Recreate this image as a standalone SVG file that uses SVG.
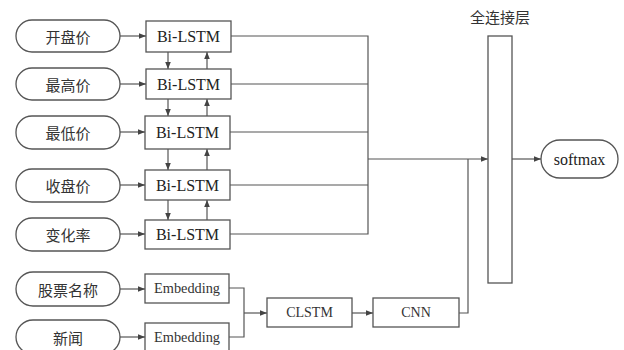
<svg xmlns="http://www.w3.org/2000/svg" width="624" height="350" viewBox="0 0 624 350">
<defs>
<marker id="ah" viewBox="0 0 10 10" refX="10" refY="5" markerWidth="7" markerHeight="7" markerUnits="userSpaceOnUse" orient="auto">
<path d="M0,1 L10,5 L0,9 z" fill="#444"/>
</marker>
<style>
.pill{fill:#fff;stroke:#555;stroke-width:1.3}
.box{fill:#fff;stroke:#555;stroke-width:1.3}
.ln{fill:none;stroke:#555;stroke-width:1.2}
.arr{fill:none;stroke:#555;stroke-width:1.2;marker-end:url(#ah)}
.cn{font-family:"Noto Sans CJK SC",sans-serif;font-size:15px;fill:#333;text-anchor:middle;dominant-baseline:central}
.en{font-family:"Liberation Serif",serif;font-size:16px;fill:#222;text-anchor:middle;dominant-baseline:central}
.sm{font-family:"Liberation Serif",serif;font-size:14px;fill:#333;text-anchor:middle;dominant-baseline:central}
.md{font-family:"Liberation Serif",serif;font-size:14px;fill:#333;text-anchor:middle;dominant-baseline:central}
</style>
</defs>
<rect width="624" height="350" fill="#fff"/>
<g id="connectors">
<line class="arr" x1="120" y1="36" x2="146" y2="36"/>
<line class="arr" x1="120" y1="84" x2="146" y2="84"/>
<line class="arr" x1="120" y1="132" x2="145" y2="132"/>
<line class="arr" x1="120" y1="185" x2="145" y2="185"/>
<line class="arr" x1="120" y1="234" x2="145" y2="234"/>
<line class="arr" x1="120" y1="289" x2="145" y2="289"/>
<line class="arr" x1="120" y1="337" x2="145" y2="337"/>
<line class="arr" x1="168" y1="52" x2="168" y2="69"/>
<line class="arr" x1="207" y1="69" x2="207" y2="52"/>
<line class="arr" x1="168" y1="99" x2="168" y2="116"/>
<line class="arr" x1="207" y1="116" x2="207" y2="99"/>
<line class="arr" x1="168" y1="149" x2="168" y2="170"/>
<line class="arr" x1="207" y1="170" x2="207" y2="149"/>
<line class="arr" x1="168" y1="200" x2="168" y2="220"/>
<line class="arr" x1="207" y1="220" x2="207" y2="200"/>
<path class="ln" d="M231,36 H368 V234 H230 M231,84 H368 M230,132 H368 M230,185 H368"/>
<line class="arr" x1="368" y1="159" x2="488" y2="159"/>
<path class="ln" d="M459,313 H468 V159"/>
<line class="arr" x1="512" y1="159" x2="541" y2="159"/>
<path class="ln" d="M229,288 H244 V337 H229"/>
<line class="arr" x1="244" y1="313" x2="267" y2="313"/>
<line class="arr" x1="352" y1="313" x2="373" y2="313"/>
</g>
<g id="n-open"><rect class="pill" x="16" y="20" width="104" height="32" rx="16"/><text class="cn" x="68" y="36">开盘价</text></g>
<g id="n-high"><rect class="pill" x="16" y="68" width="104" height="32" rx="16"/><text class="cn" x="68" y="84">最高价</text></g>
<g id="n-low"><rect class="pill" x="16" y="116" width="104" height="33" rx="16"/><text class="cn" x="68" y="132">最低价</text></g>
<g id="n-close"><rect class="pill" x="16" y="169" width="104" height="33" rx="16"/><text class="cn" x="68" y="185">收盘价</text></g>
<g id="n-change"><rect class="pill" x="16" y="218" width="104" height="33" rx="16"/><text class="cn" x="68" y="234">变化率</text></g>
<g id="n-name"><rect class="pill" x="16" y="272" width="104" height="34" rx="17"/><text class="cn" x="68" y="289">股票名称</text></g>
<g id="n-news"><rect class="pill" x="16" y="320" width="104" height="34" rx="17"/><text class="cn" x="68" y="337">新闻</text></g>
<g id="b1"><rect class="box" x="146" y="21" width="85" height="31"/><text class="en" x="188.5" y="36.5">Bi-LSTM</text></g>
<g id="b2"><rect class="box" x="146" y="69" width="85" height="30"/><text class="en" x="188.5" y="84">Bi-LSTM</text></g>
<g id="b3"><rect class="box" x="145" y="116" width="85" height="33"/><text class="en" x="187.5" y="132.5">Bi-LSTM</text></g>
<g id="b4"><rect class="box" x="145" y="170" width="85" height="30"/><text class="en" x="187.5" y="185">Bi-LSTM</text></g>
<g id="b5"><rect class="box" x="145" y="220" width="85" height="29"/><text class="en" x="187.5" y="234.5">Bi-LSTM</text></g>
<g id="e1"><rect class="box" x="145" y="274" width="84" height="29"/><text class="sm" x="187" y="288.5" textLength="66" lengthAdjust="spacingAndGlyphs">Embedding</text></g>
<g id="e2"><rect class="box" x="145" y="323" width="84" height="30"/><text class="sm" x="187" y="337.5" textLength="66" lengthAdjust="spacingAndGlyphs">Embedding</text></g>
<g id="clstm"><rect class="box" x="267" y="298" width="85" height="29"/><text class="md" x="309.5" y="312.5">CLSTM</text></g>
<g id="cnn"><rect class="box" x="373" y="298" width="86" height="29"/><text class="md" x="416" y="312.5">CNN</text></g>
<g id="fc"><rect class="box" x="488" y="36" width="24" height="247"/><text class="cn" x="500" y="16">全连接层</text></g>
<g id="softmax"><rect class="pill" x="541" y="140" width="77" height="38" rx="19"/><text class="en" x="579.5" y="159">softmax</text></g>
</svg>
